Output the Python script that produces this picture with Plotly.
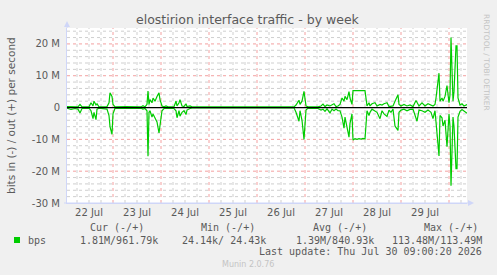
import plotly.graph_objects as go
from datetime import datetime, timedelta

# ---- data (Mbit/s) ----
times = [
    "2026-07-22 01:00", "2026-07-22 03:00", "2026-07-22 05:00", "2026-07-22 06:30", "2026-07-22 07:30",
    "2026-07-22 08:30", "2026-07-22 12:00", "2026-07-22 13:00", "2026-07-22 14:00", "2026-07-22 14:30",
    "2026-07-22 15:30", "2026-07-22 16:00", "2026-07-22 17:00", "2026-07-22 21:00", "2026-07-22 22:00",
    "2026-07-22 22:30", "2026-07-22 23:30",
    "2026-07-23 00:00", "2026-07-23 01:00", "2026-07-23 06:30", "2026-07-23 14:00", "2026-07-23 15:00",
    "2026-07-23 16:00", "2026-07-23 17:00", "2026-07-23 17:30", "2026-07-23 18:00", "2026-07-23 18:30",
    "2026-07-23 19:30", "2026-07-23 20:00", "2026-07-23 21:00", "2026-07-23 22:00", "2026-07-23 23:00",
    "2026-07-23 23:30",
    "2026-07-24 00:30", "2026-07-24 01:30", "2026-07-24 02:30", "2026-07-24 03:30", "2026-07-24 06:30",
    "2026-07-24 07:30", "2026-07-24 08:00", "2026-07-24 09:00", "2026-07-24 09:30", "2026-07-24 10:30",
    "2026-07-24 11:30", "2026-07-24 12:30", "2026-07-24 13:00", "2026-07-24 14:30", "2026-07-24 15:30",
    "2026-07-25 12:00", "2026-07-26 18:30", "2026-07-26 19:30", "2026-07-26 21:00", "2026-07-26 21:30",
    "2026-07-26 22:30", "2026-07-26 23:30",
    "2026-07-27 00:30", "2026-07-27 01:30", "2026-07-27 06:30", "2026-07-27 08:00", "2026-07-27 09:00",
    "2026-07-27 10:00", "2026-07-27 11:00", "2026-07-27 12:30", "2026-07-27 13:30", "2026-07-27 14:30",
    "2026-07-27 15:30", "2026-07-27 16:30", "2026-07-27 17:30", "2026-07-27 18:30", "2026-07-27 19:30",
    "2026-07-27 20:00", "2026-07-27 21:00", "2026-07-27 22:00", "2026-07-27 22:30", "2026-07-27 23:30",
    "2026-07-28 00:00", "2026-07-28 01:00", "2026-07-28 02:00", "2026-07-28 03:00", "2026-07-28 04:00",
    "2026-07-28 05:00", "2026-07-28 06:00", "2026-07-28 07:00", "2026-07-28 08:00", "2026-07-28 08:30",
    "2026-07-28 09:30", "2026-07-28 11:00", "2026-07-28 12:00", "2026-07-28 13:30", "2026-07-28 14:30",
    "2026-07-28 15:30", "2026-07-28 17:00", "2026-07-28 18:00", "2026-07-28 19:00", "2026-07-28 20:00",
    "2026-07-28 21:00", "2026-07-28 22:30", "2026-07-28 23:00",
    "2026-07-29 00:00", "2026-07-29 01:30", "2026-07-29 03:00", "2026-07-29 04:30", "2026-07-29 06:00",
    "2026-07-29 07:30", "2026-07-29 08:00", "2026-07-29 09:00", "2026-07-29 10:30", "2026-07-29 12:00",
    "2026-07-29 13:30", "2026-07-29 15:00", "2026-07-29 16:00", "2026-07-29 17:00", "2026-07-29 17:30",
    "2026-07-29 19:00", "2026-07-29 19:30", "2026-07-29 20:30", "2026-07-29 21:00", "2026-07-29 22:00",
    "2026-07-29 23:00",
    "2026-07-30 00:00", "2026-07-30 00:30", "2026-07-30 01:00", "2026-07-30 02:00", "2026-07-30 02:30",
    "2026-07-30 03:30", "2026-07-30 04:00", "2026-07-30 04:30", "2026-07-30 05:30", "2026-07-30 06:30",
    "2026-07-30 07:30", "2026-07-30 09:00",
]
out_bps = [
    0.3, 0.2, 0.3, 0.2, 1.0,
    0.2, 0.2, 1.5, 0.5, 2.0,
    0.8, 1.2, 0.2, 0.3, 1.5,
    4.6, 3.5,
    1.0, 0.2, 0.3, 0.2, 0.6,
    0.2, 1.0, 5.2, 1.0, 2.5,
    1.5, 3.0, 2.0, 3.5, 4.6,
    2.5,
    0.5, 0.2, 0.5, 0.2, 0.3,
    2.0, 0.5, 1.5, 2.5, 0.5,
    0.3, 1.2, 0.3, 0.5, 0.2,
    0.2, 0.2, 0.8, 2.3, 1.0,
    2.0, 5.1,
    0.5, 0.2, 0.2, 0.5, 1.1,
    0.3, 0.8, 0.5, 0.9, 1.2,
    0.3, 0.5, 1.0, 3.0, 2.0,
    3.5, 2.5, 5.0, 3.0, 1.0,
    5.3, 5.4, 5.35, 5.3, 5.3,
    5.35, 5.3, 0.5, 1.5, 0.5,
    1.2, 1.5, 0.5, 1.0, 0.8,
    1.2, 1.5, 0.3, 0.5, 0.5,
    2.0, 4.0, 1.0,
    0.5, 1.0, 0.5, 0.8, 0.3,
    2.2, 1.5, 0.5, 1.5, 0.5,
    1.2, 0.8, 0.5, 1.0, 3.0,
    10.8, 2.0, 3.0, 2.0, 3.5,
    6.9,
    1.5, 4.0, 22.0, 2.0, 5.0,
    19.4, 19.4, 3.0, 0.8, 1.2,
    0.5, 0.96,
]
in_bps = [
    0.2, 0.6, 0.3, 0.5, 1.7,
    0.3, 0.2, 1.0, 3.5, 1.5,
    3.8, 0.5, 0.2, 0.5, 2.5,
    6.0, 8.4,
    2.0, 0.2, 0.3, 0.2, 0.5,
    0.3, 1.0, 15.3, 1.5, 1.0,
    3.0, 2.0, 3.5, 4.5, 8.0,
    5.5,
    1.0, 0.3, 0.3, 0.2, 0.3,
    1.0, 3.2, 1.0, 2.7, 1.5,
    1.0, 2.2, 0.8, 0.3, 0.1,
    0.1, 0.1, 1.5, 4.3, 1.0,
    4.0, 10.0,
    0.8, 0.2, 0.3, 0.8, 0.5,
    1.2, 0.4, 1.7, 0.5, 1.0,
    0.5, 1.0, 1.0, 3.0, 6.5,
    3.0, 6.0, 9.3, 5.0, 2.0,
    10.2, 9.8, 10.0, 9.8, 9.9,
    9.7, 9.9, 1.0, 2.5, 1.5,
    0.5, 1.0, 1.5, 3.5, 1.0,
    2.0, 2.8, 0.8, 1.5, 0.5,
    5.8, 7.2, 1.5,
    0.8, 0.5, 1.0, 0.6, 0.5,
    3.0, 4.3, 0.8, 1.0, 1.5,
    0.8, 1.5, 3.5, 1.0, 4.0,
    15.2, 2.5, 3.2, 5.8, 4.0,
    12.3,
    2.0, 6.0, 24.6, 3.0, 6.0,
    19.2, 19.2, 3.0, 1.2, 0.6,
    1.2, 1.81,
]
y_tickvals = [-30, -20, -10, 0, 10, 20]
y_ticktext = ["-30 M", "-20 M", "-10 M", "0", "10 M", "20 M"]
x_start, x_end = "2026-07-22 01:00", "2026-07-30 09:00"

legend_headers = ["Cur (-/+)", "Min (-/+)", "Avg (-/+)", "Max (-/+)"]
legend_values = ["1.81M/961.79k", "24.14k/ 24.43k", "1.39M/840.93k", "113.48M/113.49M"]
series_name = "bps"
last_update = "Last update: Thu Jul 30 09:00:20 2026"

# ---- layout geometry (pixels) ----
W, H = 497, 275
L, T, PW, PH = 67, 28, 400, 175
GREEN = "#00cc00"
AXIS = "#cfd6f8"
GRID = "#cfcfcf"
MGRID = "#f3a0a0"
TXT = "#5a5a5a"
SANS = "DejaVu Sans"
MONO = "DejaVu Sans Mono"


def px(x):
    return (x - L) / PW


def py(y):
    return (T + PH - y) / PH


fig = go.Figure()
fig.add_trace(go.Scatter(x=times, y=[-v for v in in_bps], mode="lines",
                         line=dict(color=GREEN, width=1.2), hoverinfo="skip"))
fig.add_trace(go.Scatter(x=times, y=out_bps, mode="lines",
                         line=dict(color=GREEN, width=1.2), hoverinfo="skip"))
fig.add_trace(go.Scatter(x=[x_start, x_end], y=[0, 0], mode="lines",
                         line=dict(color="#000000", width=1.3), hoverinfo="skip"))

fig.update_layout(
    width=W, height=H,
    margin=dict(l=L, r=W - L - PW, t=T, b=H - T - PH),
    paper_bgcolor="#f0f0f0", plot_bgcolor="#ffffff",
    showlegend=False,
    xaxis=dict(
        type="date", range=[x_start, x_end],
        tick0="2026-07-22", dtick=86400000, ticklabelmode="period", tickformat="%d %b",
        showgrid=False, showline=True, linecolor=AXIS, linewidth=1,
        ticks="", tickfont=dict(family=SANS, size=10, color=TXT),
        zeroline=False, fixedrange=True,
    ),
    yaxis=dict(
        range=[-30, 25], tickvals=y_tickvals, ticktext=y_ticktext,
        showgrid=False, showline=True, linecolor=AXIS, linewidth=1,
        ticks="", ticklabelstandoff=4,
        tickfont=dict(family=SANS, size=10, color=TXT),
        zeroline=False, fixedrange=True,
    ),
)

shapes = []
# horizontal grid every 2 M, major (red) every 10 M
for v in range(-28, 25, 2):
    shapes.append(dict(type="line", xref="paper", yref="y", x0=0, x1=1, y0=v, y1=v, layer="below",
                       line=dict(color=MGRID if v % 10 == 0 else GRID, width=1, dash="dot")))
# vertical grid every 6 h, major (red) at midnight
g = datetime(2026, 7, 22, 6)
end = datetime(2026, 7, 30, 9)
while g < end:
    shapes.append(dict(type="line", xref="x", yref="paper", x0=g.strftime("%Y-%m-%d %H:%M"),
                       x1=g.strftime("%Y-%m-%d %H:%M"), y0=0, y1=1, layer="below",
                       line=dict(color=MGRID if g.hour == 0 else GRID, width=1, dash="dot")))
    g += timedelta(hours=6)
# legend swatch
shapes.append(dict(type="rect", xref="paper", yref="paper", x0=px(14), x1=px(20), y0=py(243), y1=py(237),
                   fillcolor=GREEN, line=dict(width=0)))
# axis arrows
shapes.append(dict(type="line", xref="paper", yref="paper", x0=px(67), x1=px(67), y0=py(28), y1=py(23),
                   line=dict(color=AXIS, width=1)))
shapes.append(dict(type="path", xref="paper", yref="paper",
                   path=f"M {px(64)} {py(27)} L {px(70)} {py(27)} L {px(67)} {py(21)} Z",
                   fillcolor=AXIS, line=dict(width=0)))
shapes.append(dict(type="line", xref="paper", yref="paper", x0=px(64), x1=px(472), y0=py(203), y1=py(203),
                   line=dict(color=AXIS, width=1)))
shapes.append(dict(type="path", xref="paper", yref="paper",
                   path=f"M {px(468)} {py(200)} L {px(468)} {py(206)} L {px(474)} {py(203)} Z",
                   fillcolor=AXIS, line=dict(width=0)))
fig.update_layout(shapes=shapes)

ann = []


def add_text(x, y, text, size, family=SANS, color=TXT, xanchor="left", angle=0):
    ann.append(dict(x=px(x), y=py(y), xref="paper", yref="paper", text=text, showarrow=False,
                    xanchor=xanchor, yanchor="middle", textangle=angle, borderpad=0,
                    font=dict(family=family, size=size, color=color)))


add_text(248, 19.5, "elostirion interface traffic - by week", 12.5, xanchor="center")
add_text(10.5, 115.5, "bits in (-) / out (+) per second", 10.5, xanchor="center", angle=-90)
add_text(487, 62, "RRDTOOL / TOBI OETIKER", 7.5, xanchor="center", angle=90, color="#c4c4c4")
hdr_x = [89, 200, 312, 423]
val_x = [79, 181, 295, 391]
for hx, h in zip(hdr_x, legend_headers):
    add_text(hx, 227.3, h, 10, family=MONO)
add_text(27, 240, series_name, 10, family=MONO)
for vx, v in zip(val_x, legend_values):
    add_text(vx, 240, v, 10, family=MONO)
add_text(483, 251.8, last_update, 10, family=MONO, xanchor="right")
add_text(248, 264, "Munin 2.0.76", 8, xanchor="center", color="#c4c4c4")
fig.update_layout(annotations=ann)

fig.write_html("out.html")
